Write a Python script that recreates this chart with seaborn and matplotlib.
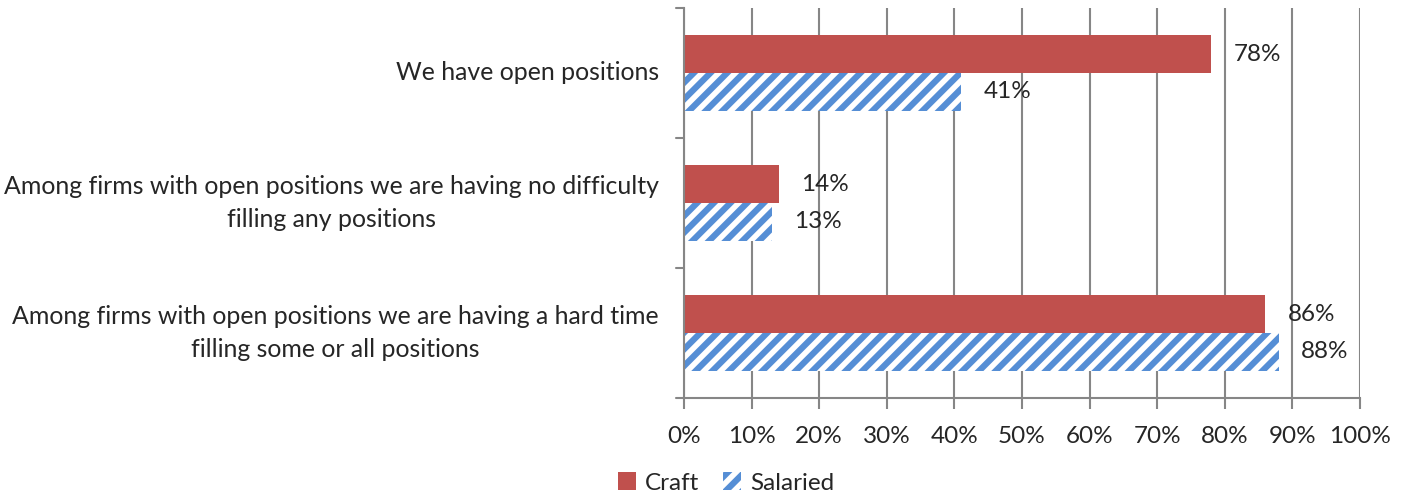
import pandas as pd
import seaborn as sns
import matplotlib.pyplot as plt
from matplotlib.patches import Patch
from matplotlib.transforms import blended_transform_factory

# Data
categories = [
    'We have open positions',
    'Among firms with open positions we are having no difficulty\nfilling any positions',
    'Among firms with open positions we are having a hard time\nfilling some or all positions',
]
craft = [78, 14, 86]
salaried = [41, 13, 88]
series = ['Craft', 'Salaried']

df = pd.DataFrame({
    'Category': categories * 2,
    'Group': ['Craft'] * 3 + ['Salaried'] * 3,
    'Value': craft + salaried,
})

sns.set_style('white')
plt.rcParams['font.family'] = ['Lato', 'DejaVu Sans']
plt.rcParams['hatch.linewidth'] = 4.5

red = '#C0504D'
blue = '#558ED5'
grey = '#868686'
fs = 17.5

fig = plt.figure(figsize=(14.09, 4.96), dpi=100)
ax = fig.add_axes([684 / 1409, 1 - 398 / 496, (1360 - 684) / 1409, 390 / 496])

sns.barplot(data=df, y='Category', x='Value', hue='Group', orient='h',
            palette={'Craft': red, 'Salaried': 'white'}, width=0.58,
            saturation=1, ax=ax, legend=False)

for bars, name in zip(ax.containers, series):
    for p in bars:
        p.set_linewidth(0)
        if name == 'Salaried':
            p.set_hatch('//')
            p.set_edgecolor(blue)
    ax.bar_label(bars, labels=[f'{v:.0f}%' for v in bars.datavalues],
                 padding=16, fontsize=fs)

ax.set_xlim(0, 100)
ax.set_xticks(range(0, 101, 10))
ax.set_xticklabels([f'{t}%' for t in range(0, 101, 10)], fontsize=fs)
ax.tick_params(axis='x', pad=12, length=8, color=grey, width=1.5, direction='out', bottom=True)
ax.tick_params(axis='y', length=0)
ax.set_ylim(2.5, -0.5)
ax.set_xlabel('')
ax.set_ylabel('')
ax.grid(axis='x', color=grey, linewidth=1.5)
ax.set_axisbelow(True)
for s in ['top', 'right']:
    ax.spines[s].set_visible(False)
for s in ['left', 'bottom']:
    ax.spines[s].set_color(grey)
    ax.spines[s].set_linewidth(1.5)

# y category boundary ticks
for yb in [-0.5, 0.5, 1.5, 2.5]:
    ax.plot([-1.2, 0], [yb, yb], color=grey, linewidth=1.5, clip_on=False)

# category labels: right-aligned block, centred lines
ax.set_yticklabels([])
tr = blended_transform_factory(fig.transFigure, ax.transData)
for i, c in enumerate(categories):
    ax.text(659 / 1409, i, c, transform=tr, ha='right', va='center',
            multialignment='center', fontsize=17.9, linespacing=1.5)

handles = [Patch(facecolor=red, edgecolor='none', label='Craft'),
           Patch(facecolor='white', edgecolor=blue, hatch='//', linewidth=0, label='Salaried')]
fig.legend(handles=handles, loc='center', bbox_to_anchor=(726 / 1409, 1 - 483 / 496),
           ncol=2, frameon=False, fontsize=fs, handlelength=0.75, handleheight=0.75,
           handletextpad=0.35, columnspacing=1.0)

fig.savefig('out.png', dpi=100)
